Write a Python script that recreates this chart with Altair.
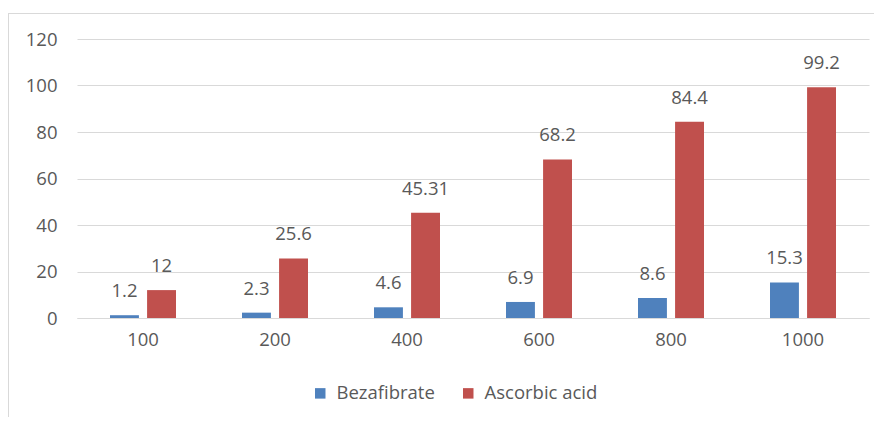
import altair as alt
import pandas as pd

concentrations = ["100", "200", "400", "600", "800", "1000"]
bezafibrate = [1.2, 2.3, 4.6, 6.9, 8.6, 15.3]
ascorbic_acid = [12, 25.6, 45.31, 68.2, 84.4, 99.2]
series_names = ["Bezafibrate", "Ascorbic acid"]
colors = ["#4F81BD", "#C0504D"]

rows = []
for c, b, a in zip(concentrations, bezafibrate, ascorbic_acid):
    rows.append({"conc": c, "series": series_names[0], "value": b, "label": f"{b:g}"})
    rows.append({"conc": c, "series": series_names[1], "value": a, "label": f"{a:g}"})
df = pd.DataFrame(rows)

FONT = "Open Sans"
FS = 18.5
W, H = 792, 279

x_enc = alt.X("conc:N", sort=concentrations,
              scale=alt.Scale(paddingInner=0.5, paddingOuter=0.25),
              axis=alt.Axis(title=None, labelAngle=0, ticks=False, domain=True,
                            domainColor="#d9d9d9", labelPadding=12,
                            labelFontSize=FS, labelColor="#595959", labelFont=FONT))
xo_enc = alt.XOffset("series:N", sort=series_names,
                     scale=alt.Scale(paddingInner=0.22, paddingOuter=0))

base = alt.Chart(df)

bars = base.mark_bar().encode(
    x=x_enc,
    xOffset=xo_enc,
    y=alt.Y("value:Q", scale=alt.Scale(domain=[0, 120], nice=False),
            axis=alt.Axis(title=None, values=[0, 20, 40, 60, 80, 100, 120],
                          ticks=False, domain=False, gridColor="#d9d9d9",
                          labelPadding=20, labelFontSize=FS, labelColor="#595959",
                          labelFont=FONT)),
    color=alt.Color("series:N", sort=series_names,
                    scale=alt.Scale(domain=series_names, range=colors),
                    legend=alt.Legend(title=None, orient="none", direction="horizontal",
                                      legendX=234, legendY=345,
                                      symbolType="square", symbolSize=110,
                                      symbolStrokeWidth=0, labelFontSize=FS,
                                      labelColor="#595959", labelFont=FONT,
                                      labelOffset=7, columnPadding=24)),
)

labels = base.mark_text(fontSize=FS, font=FONT, color="#595959",
                        baseline="middle", dy=-24).encode(
    x=alt.X("conc:N", sort=concentrations),
    xOffset=alt.XOffset("series:N", sort=series_names),
    y="value:Q",
    text="label:N",
)

border_left = alt.Chart(pd.DataFrame({"a": [0]})).mark_rule(
    color="#d9d9d9", strokeWidth=1, clip=False).encode(
    x=alt.value(-68.5), y=alt.value(-26), y2=alt.value(395))
border_top = alt.Chart(pd.DataFrame({"a": [0]})).mark_rule(
    color="#d9d9d9", strokeWidth=1, clip=False).encode(
    x=alt.value(-69), x2=alt.value(797), y=alt.value(-25.5))

chart = alt.layer(bars, labels, border_left, border_top).properties(
    width=W, height=H,
    background="white",
    autosize=alt.AutoSizeParams(type="none"),
    padding={"left": 69, "top": 31, "right": 5, "bottom": 99},
).configure_view(stroke=None)

chart.save("out.html", embed_options={"renderer": "svg", "actions": False})
